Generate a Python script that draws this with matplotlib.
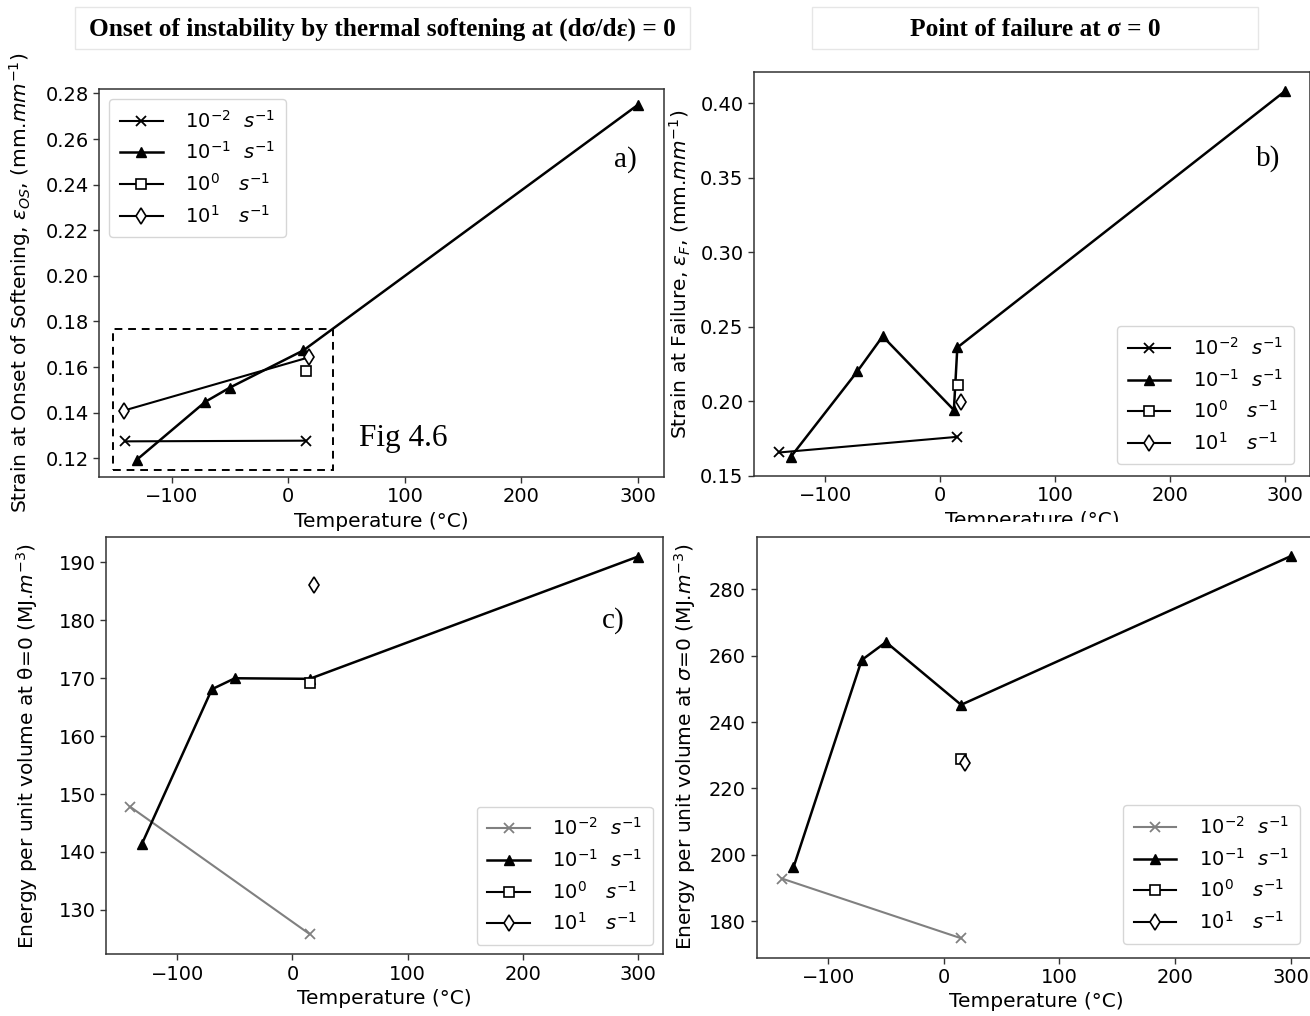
import matplotlib
matplotlib.use("Agg")
import matplotlib.pyplot as plt
from matplotlib.patches import Rectangle

plt.rcParams['font.family'] = ['DejaVu Sans']
plt.rcParams['mathtext.fontset'] = 'dejavusans'
plt.rcParams['font.size'] = 14

# ---- data -------------------------------------------------------------
rate_labels = [r'$10^{-2}\ \ s^{-1}$', r'$10^{-1}\ \ s^{-1}$',
               r'$10^{0}\ \ \ s^{-1}$', r'$10^{1}\ \ \ s^{-1}$']

# a) strain at onset of softening
a_t_m2 = [-140, 15]
a_v_m2 = [0.1274, 0.1277]
a_t_m1 = [-130, -71, -50, 13, 300]
a_v_m1 = [0.1193, 0.1448, 0.1510, 0.1673, 0.2750]
a_t_0 = [15]
a_v_0 = [0.1584]
a_t_1 = [-141, 18]
a_v_1 = [0.1409, 0.1643]

# b) strain at failure
b_t_m2 = [-140, 15]
b_v_m2 = [0.1655, 0.1760]
b_t_m1 = [-130, -72, -50, 12, 15, 300]
b_v_m1 = [0.1625, 0.2200, 0.2435, 0.1940, 0.2360, 0.4080]
b_t_0 = [16]
b_v_0 = [0.2105]
b_t_1 = [18]
b_v_1 = [0.1995]

# c) energy per unit volume at theta = 0
c_t_m2 = [-141, 15]
c_v_m2 = [147.8, 125.8]
c_t_m1 = [-131, -70, -50, 15, 300]
c_v_m1 = [141.3, 168.1, 170.0, 169.9, 191.0]
c_t_0 = [15]
c_v_0 = [169.1]
c_t_1 = [19]
c_v_1 = [186.1]

# d) energy per unit volume at sigma = 0
d_t_m2 = [-140, 15]
d_v_m2 = [192.8, 174.8]
d_t_m1 = [-130, -71, -50, 15, 300]
d_v_m1 = [196.2, 258.7, 264.1, 245.2, 290.0]
d_t_0 = [15]
d_v_0 = [229.0]
d_t_1 = [18]
d_v_1 = [227.7]

x_ticks = [-100, 0, 100, 200, 300]

# ---- layout helpers ----------------------------------------------------
W, H = 1310, 1016
fig = plt.figure(figsize=(W / 100, H / 100), dpi=100)
fig.patch.set_facecolor('white')


def box(l, t, r, b):
    return [l / W, 1 - b / H, (r - l) / W, (b - t) / H]


def draw_series(ax, t2, v2, t1, v1, t0, v0, tp1, vp1, grey_first=False):
    c2 = '#808080' if grey_first else 'black'
    ax.plot(t2, v2, color=c2, marker='x', lw=1.5, ms=7, mew=1.3,
            label=rate_labels[0])
    ax.plot(t1, v1, color='black', marker='^', lw=1.8, ms=7.5,
            label=rate_labels[1])
    ax.plot(t0, v0, color='black', marker='s', mfc='white', lw=1.5, ms=6.5,
            mew=1.2, ls='-', label=rate_labels[2])
    ax.plot(tp1, vp1, color='black', marker='d', mfc='white', lw=1.5, ms=8,
            mew=1.2, ls='-', label=rate_labels[3])


def style(ax, ylim, yticks, yfmt):
    ax.set_xlim(-162, 322)
    ax.set_ylim(*ylim)
    ax.set_xticks(x_ticks)
    ax.set_yticks(yticks)
    ax.set_yticklabels([yfmt.format(v) for v in yticks])
    ax.tick_params(labelsize=14, length=4.5, width=1, color='#333333', pad=3)
    for s in ax.spines.values():
        s.set_color('#333333')
        s.set_linewidth(1.1)
    ax.set_xlabel('Temperature (°C)', fontsize=14.5, labelpad=4)


leg_kw = dict(fontsize=14, handlelength=2.2, handletextpad=1.15,
              labelspacing=0.5, borderpad=0.55, framealpha=0.8)

# ---- panel a -----------------------------------------------------------
ax_a = fig.add_axes(box(99.4, 89.3, 663.6, 476.7))
draw_series(ax_a, a_t_m2, a_v_m2, a_t_m1, a_v_m1, a_t_0, a_v_0, a_t_1, a_v_1)
style(ax_a, (0.1119, 0.2818), [0.12, 0.14, 0.16, 0.18, 0.20, 0.22, 0.24, 0.26, 0.28], '{:.2f}')
ax_a.set_ylabel(r'Strain at Onset of Softening, $\varepsilon_{OS}$, (mm.$mm^{-1}$)',
                fontsize=14.5, labelpad=9)
ax_a.add_patch(Rectangle((-150.5, 0.1149), 188.5, 0.0617, fill=False,
                         ls=(0, (4, 3)), lw=1.4, color='black'))
ax_a.text(61, 0.1287, 'Fig 4.6', family='Liberation Serif', fontsize=22.5,
          va='center', ha='left')
ax_a.text(0.933, 0.82, 'a)', transform=ax_a.transAxes, family='Liberation Serif',
          fontsize=21, ha='center', va='center')
ax_a.legend(loc='upper left', **leg_kw)

# ---- panel b -----------------------------------------------------------
ax_b = fig.add_axes(box(754, 72, 1310, 476))
draw_series(ax_b, b_t_m2, b_v_m2, b_t_m1, b_v_m1, b_t_0, b_v_0, b_t_1, b_v_1)
style(ax_b, (0.1497, 0.4210), [0.15, 0.20, 0.25, 0.30, 0.35, 0.40], '{:.2f}')
ax_b.set_ylabel(r'Strain at Failure, $\varepsilon_{F}$, (mm.$mm^{-1}$)',
                fontsize=14.5, labelpad=5)
ax_b.text(0.925, 0.785, 'b)', transform=ax_b.transAxes, family='Liberation Serif',
          fontsize=21, ha='center', va='center')
ax_b.legend(loc='lower right', bbox_to_anchor=(0.988, 0.005), **leg_kw)

# ---- panel c -----------------------------------------------------------
ax_c = fig.add_axes(box(106, 537, 663, 954.4))
draw_series(ax_c, c_t_m2, c_v_m2, c_t_m1, c_v_m1, c_t_0, c_v_0, c_t_1, c_v_1,
            grey_first=True)
style(ax_c, (122.3, 194.4), [130, 140, 150, 160, 170, 180, 190], '{:.0f}')
ax_c.set_ylabel('Energy per unit volume at θ=0 (MJ.$m^{-3}$)',
                fontsize=14.5, labelpad=13)
ax_c.text(0.91, 0.80, 'c)', transform=ax_c.transAxes, family='Liberation Serif',
          fontsize=21, ha='center', va='center')
ax_c.legend(loc='lower right', **leg_kw)

# ---- panel d -----------------------------------------------------------
ax_d = fig.add_axes(box(756.5, 537, 1316, 957.5))
draw_series(ax_d, d_t_m2, d_v_m2, d_t_m1, d_v_m1, d_t_0, d_v_0, d_t_1, d_v_1,
            grey_first=True)
style(ax_d, (169.0, 295.8), [180, 200, 220, 240, 260, 280], '{:.0f}')
ax_d.set_ylabel(r'Energy per unit volume at $\sigma$=0 (MJ.$m^{-3}$)',
                fontsize=14.5, labelpad=8)
ax_d.legend(loc='lower right', bbox_to_anchor=(0.988, 0.01), **leg_kw)

# panel b's axis title runs under panel d's frame
fig.patches.append(Rectangle((665 / W, 1 - 536 / H), (W - 665) / W, 14.5 / H,
                             transform=fig.transFigure, facecolor='white',
                             edgecolor='none', zorder=5))

# ---- column headings -----------------------------------------------------
for (l, r), txt in [((75, 690), 'Onset of instability by thermal softening at (dσ/dε) = 0'),
                    ((812, 1258), 'Point of failure at σ = 0')]:
    fig.patches.append(Rectangle((l / W, 1 - 49 / H), (r - l) / W, 42 / H,
                                 transform=fig.transFigure, facecolor='white',
                                 edgecolor='#e6e6e6', lw=1.0, zorder=1))
    fig.text((l + r) / 2 / W, 1 - 29 / H, txt, family='Liberation Serif',
             fontweight='bold', fontsize=18.3, ha='center', va='center')

fig.savefig('out.png', dpi=100)
